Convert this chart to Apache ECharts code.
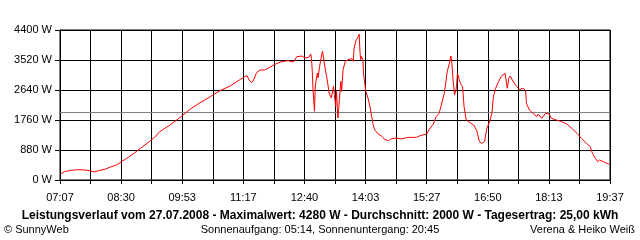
<!DOCTYPE html>
<html>
<head>
<meta charset="utf-8">
<script src="https://cdn.jsdelivr.net/npm/echarts@6/dist/echarts.min.js"></script>
<style>html,body{margin:0;padding:0;background:#fff}#c{width:640px;height:240px}</style>
</head>
<body>
<div id="c"></div>
<script>
// ---- data ----
const startTime = "07:07";
const endTime = "19:37";
const xTickLabels = ["07:07","08:30","09:53","11:17","12:40","14:03","15:27","16:50","18:13","19:37"];
const yTickValues = [0, 880, 1760, 2640, 3520, 4400];
const averageW = 2000;
const times = ["07:08","07:13","07:22","07:31","07:41","07:47","07:54","07:59","08:08","08:17","08:24","08:31","08:40","08:49","08:58","09:07","09:16","09:23","09:37","09:51","10:04","10:18","10:32","10:45","10:59","11:12","11:19","11:22","11:25","11:28","11:31","11:35","11:40","11:46","11:53","12:00","12:09","12:18","12:25","12:30","12:37","12:41","12:46","12:49","12:50","12:51","12:52","12:54","12:55","12:56","12:58","12:59","13:01","13:04","13:05","13:07","13:08","13:10","13:11","13:14","13:17","13:20","13:21","13:23","13:24","13:26","13:27","13:29","13:30","13:31","13:33","13:36","13:40","13:45","13:47","13:48","13:51","13:54","13:55","13:56","13:57","13:58","14:00","14:01","14:04","14:05","14:07","14:10","14:12","14:14","14:16","14:21","14:26","14:30","14:35","14:39","14:46","14:51","14:57","15:04","15:13","15:18","15:27","15:31","15:36","15:40","15:44","15:47","15:51","15:53","15:55","15:58","16:00","16:01","16:03","16:05","16:07","16:08","16:09","16:11","16:13","16:16","16:18","16:21","16:26","16:31","16:35","16:39","16:42","16:46","16:49","16:52","16:53","16:56","16:58","17:01","17:05","17:09","17:14","17:16","17:17","17:19","17:21","17:25","17:30","17:34","17:39","17:42","17:43","17:47","17:52","17:57","17:59","18:04","18:09","18:14","18:17","18:24","18:31","18:38","18:45","18:52","18:58","19:05","19:10","19:13","19:17","19:20","19:23","19:28","19:33","19:36"];
const watts = [176,245,284,303,293,273,235,273,313,391,440,538,665,802,949,1095,1251,1418,1613,1838,2073,2268,2444,2620,2757,2940,3031,3060,2933,2855,2933,3148,3227,3227,3305,3393,3471,3500,3461,3617,3637,3579,3598,3696,3539,3188,2649,2015,2698,2894,3139,2992,3334,3696,3774,3481,3530,3090,2992,2552,2405,2748,2503,2161,2601,1819,2063,2649,2894,2601,3236,3481,3530,3559,3481,3872,4116,4214,4280,3774,3530,3627,3530,3090,2601,2552,2405,2112,1868,1623,1476,1349,1281,1183,1154,1212,1232,1203,1232,1251,1251,1300,1349,1500,1640,1860,1956,2200,2542,2835,3177,3422,3637,3520,2933,2493,2640,2835,3129,3080,2835,2737,2150,1760,1681,1613,1467,1124,1075,1124,1516,1662,1731,1956,2444,2689,2884,3050,3129,3080,2689,2982,3050,2884,2737,2659,2689,2620,2249,2053,1956,1857,1926,1809,1956,1936,1809,1760,1711,1643,1516,1369,1223,1075,977,782,636,538,587,538,489,460];
const titleText = "Leistungsverlauf vom 27.07.2008 - Maximalwert: 4280 W - Durchschnitt: 2000 W - Tagesertrag: 25,00 kWh";
const footLeft = "© SunnyWeb";
const footCenter = "Sonnenaufgang: 05:14, Sonnenuntergang: 20:45";
const footRight = "Verena & Heiko Weiß";

// ---- build ----
function toSec(s){const p=s.split(':');return (+p[0])*3600+(+p[1])*60;}
const t0 = toSec(startTime);
const span = toSec(endTime) - t0;           // 45000 s
const labelStep = span / (xTickLabels.length - 1); // 5000 s
const tickStep = labelStep / 2;             // 2500 s
const seriesData = times.map((t,i)=>[toSec(t)-t0, watts[i]]);
const FONT = "Liberation Sans";

const chart = echarts.init(document.getElementById('c'), null, {renderer:'canvas'});
chart.setOption({
  animation:false,
  backgroundColor:'#ffffff',
  grid:{left:60,right:30,top:30,bottom:60,containLabel:false,outerBoundsMode:'none',show:true,borderColor:'#000',borderWidth:1},
  xAxis:{
    type:'value',min:0,max:span,interval:tickStep,
    axisLine:{show:true,lineStyle:{color:'#000',width:1}},
    axisTick:{show:true,length:4,lineStyle:{color:'#000',width:1}},
    splitLine:{show:true,lineStyle:{color:'#000',width:1}},
    axisLabel:{
      color:'#000',fontFamily:FONT,fontSize:11,margin:12,showMinLabel:true,showMaxLabel:true,hideOverlap:false,
      formatter:function(v){const k=Math.round(v/tickStep);if(k%2!==0)return '';return xTickLabels[k/2]||'';}
    }
  },
  yAxis:{
    type:'value',min:yTickValues[0],max:yTickValues[yTickValues.length-1],interval:yTickValues[1]-yTickValues[0],
    axisLine:{show:true,lineStyle:{color:'#000',width:1}},
    axisTick:{show:true,length:5,lineStyle:{color:'#000',width:1}},
    splitLine:{show:true,lineStyle:{color:'#000',width:1}},
    axisLabel:{color:'#000',fontFamily:FONT,fontSize:11,margin:8,formatter:function(v){return String(v)+' W';}}
  },
  series:[{
    type:'line',data:seriesData,showSymbol:false,symbol:'none',
    lineStyle:{color:'#ff0000',width:1},
    z:3,
    markLine:{silent:true,symbol:['none','none'],label:{show:false},
      lineStyle:{color:'#808080',type:'solid',width:1},
      data:[{yAxis:averageW}],z:2}
  }],
  graphic:[
    {type:'text',left:'center',top:210,style:{text:titleText,font:'bold 12px '+FONT,fill:'#000'}},
    {type:'text',left:4,top:224,style:{text:footLeft,font:'11px '+FONT,fill:'#000'}},
    {type:'text',left:'center',top:224,style:{text:footCenter,font:'11px '+FONT,fill:'#000'}},
    {type:'text',right:5,top:224,style:{text:footRight,font:'11px '+FONT,fill:'#000'}}
  ]
});
</script>
</body>
</html>
